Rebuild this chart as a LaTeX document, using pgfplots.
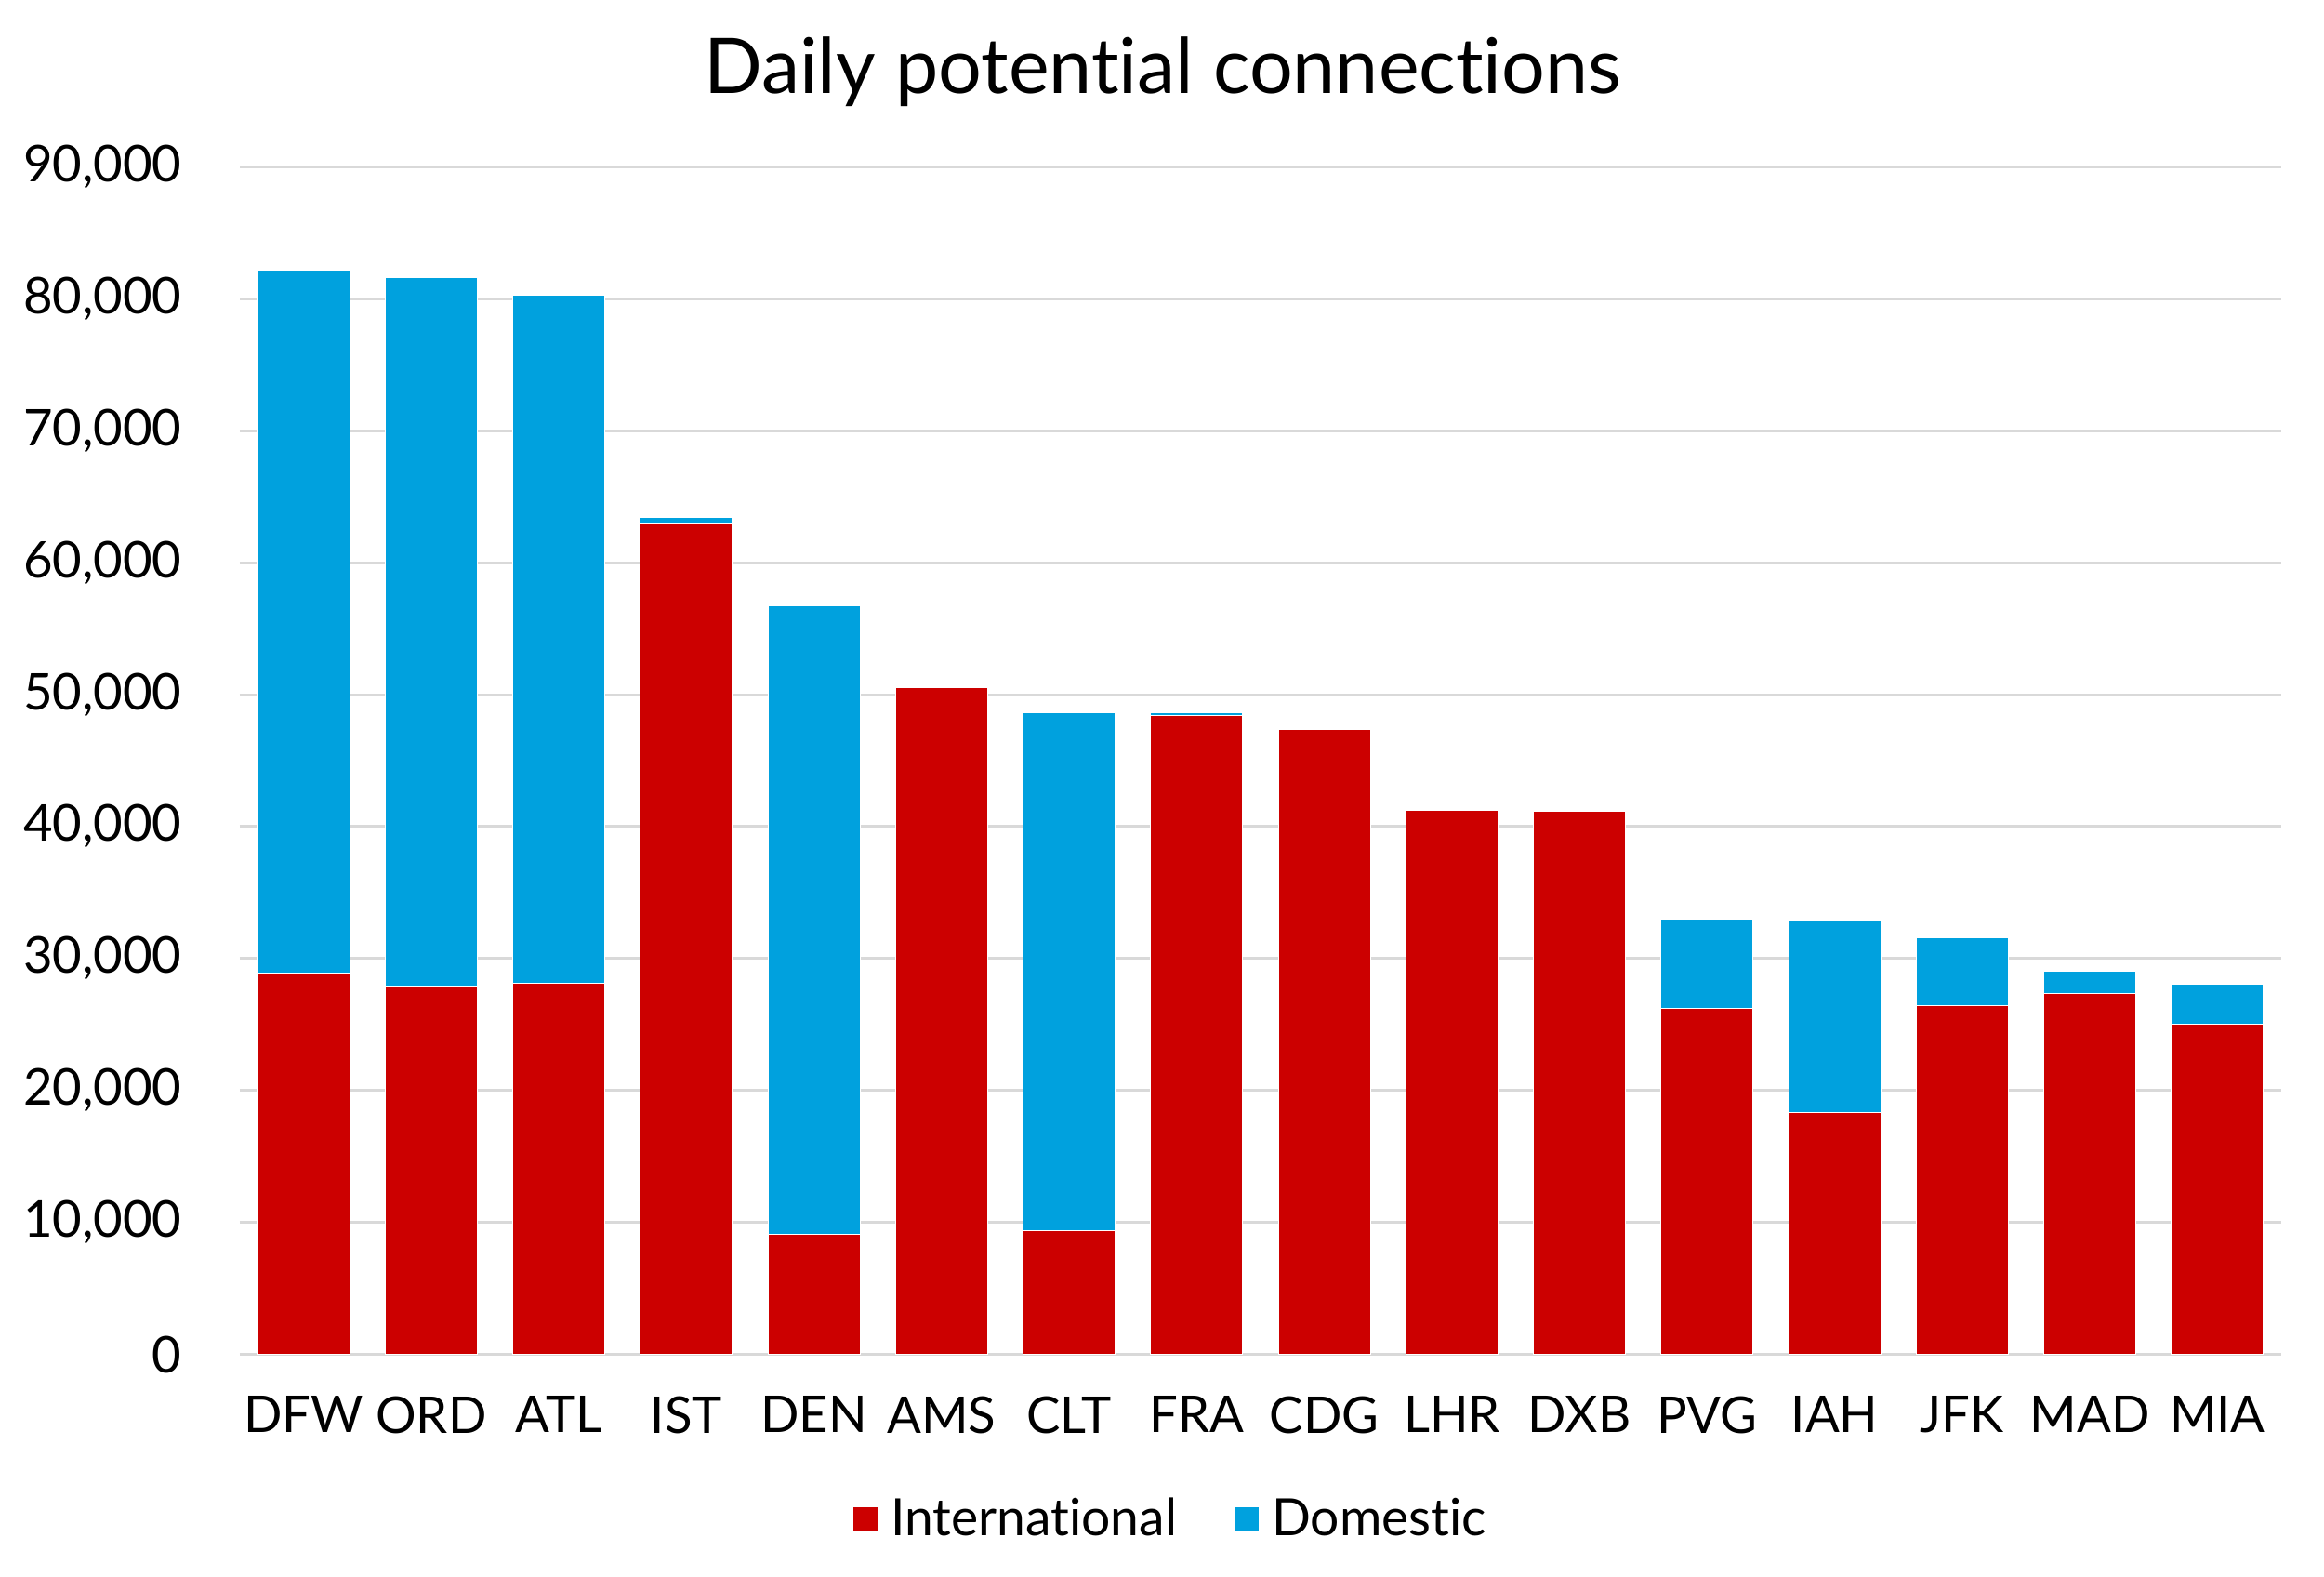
\documentclass[border=0pt]{standalone}
\usepackage{pgfplots}
\pgfplotsset{compat=1.18}
\usepackage{fontspec}
\setmainfont{Lato}[Ligatures=NoCommon]
\definecolor{intl}{RGB}{204,0,0}
\definecolor{dom}{RGB}{0,161,222}
\definecolor{gridgray}{RGB}{217,217,217}
\begin{document}
\begin{tikzpicture}
\useasboundingbox (-2.58,-2.39) rectangle (22.42,14.565);
\begin{axis}[
    scale only axis,
    width=21.96cm, height=12.77cm,
    ybar stacked,
    bar width=0.99cm,
    xmin=-0.5, xmax=15.5,
    ymin=0, ymax=90000,
    ytick={0,10000,...,90000},
    xtick=data,
    xticklabels={DFW,ORD,ATL,IST,DEN,AMS,CLT,FRA,CDG,LHR,DXB,PVG,IAH,JFK,MAD,MIA},
    axis line style={draw=none},
    major tick length=0pt,
    ymajorgrids,
    grid style={gridgray, line width=0.85pt},
    scaled y ticks=false,
    /pgf/number format/.cd, fixed, precision=0, 1000 sep={,}, assume math mode=true,
    /pgfplots/.cd,
    tick label style={font=\fontsize{15.5}{18}\selectfont},
    yticklabel style={xshift=-0.5cm},
    xticklabel style={yshift=-0.33cm},
    title={Daily potential connections},
    title style={font=\fontsize{23.5}{28}\selectfont, at={(0.452,1.0453)}, anchor=base},
    legend style={draw=none, at={(0.457,-0.139)}, anchor=center,
        font=\fontsize{15.7}{18}\selectfont, legend columns=2,
        /tikz/every even column/.append style={column sep=0.54cm}},
    legend image code/.code={\fill[#1] (0cm,-0.135cm) rectangle (0.27cm,0.135cm);
        \path (0.33cm,0cm);},
]
\addplot[fill=intl, draw=white, line width=0.3pt] coordinates {
(0,28900) (1,27900) (2,28100) (3,62950) (4,9100) (5,50550) (6,9400) (7,48450)
(8,47350) (9,41200) (10,41150) (11,26200) (12,18350) (13,26450) (14,27350) (15,25040)};
\addlegendentry{International}
\addplot[fill=dom, draw=white, line width=0.3pt] coordinates {
(0,53250) (1,53700) (2,52200) (3,500) (4,47650) (5,0) (6,39250) (7,200)
(8,100) (9,100) (10,0) (11,6780) (12,14460) (13,5110) (14,1700) (15,3000)};
\addlegendentry{Domestic}
\end{axis}
\end{tikzpicture}
\end{document}
